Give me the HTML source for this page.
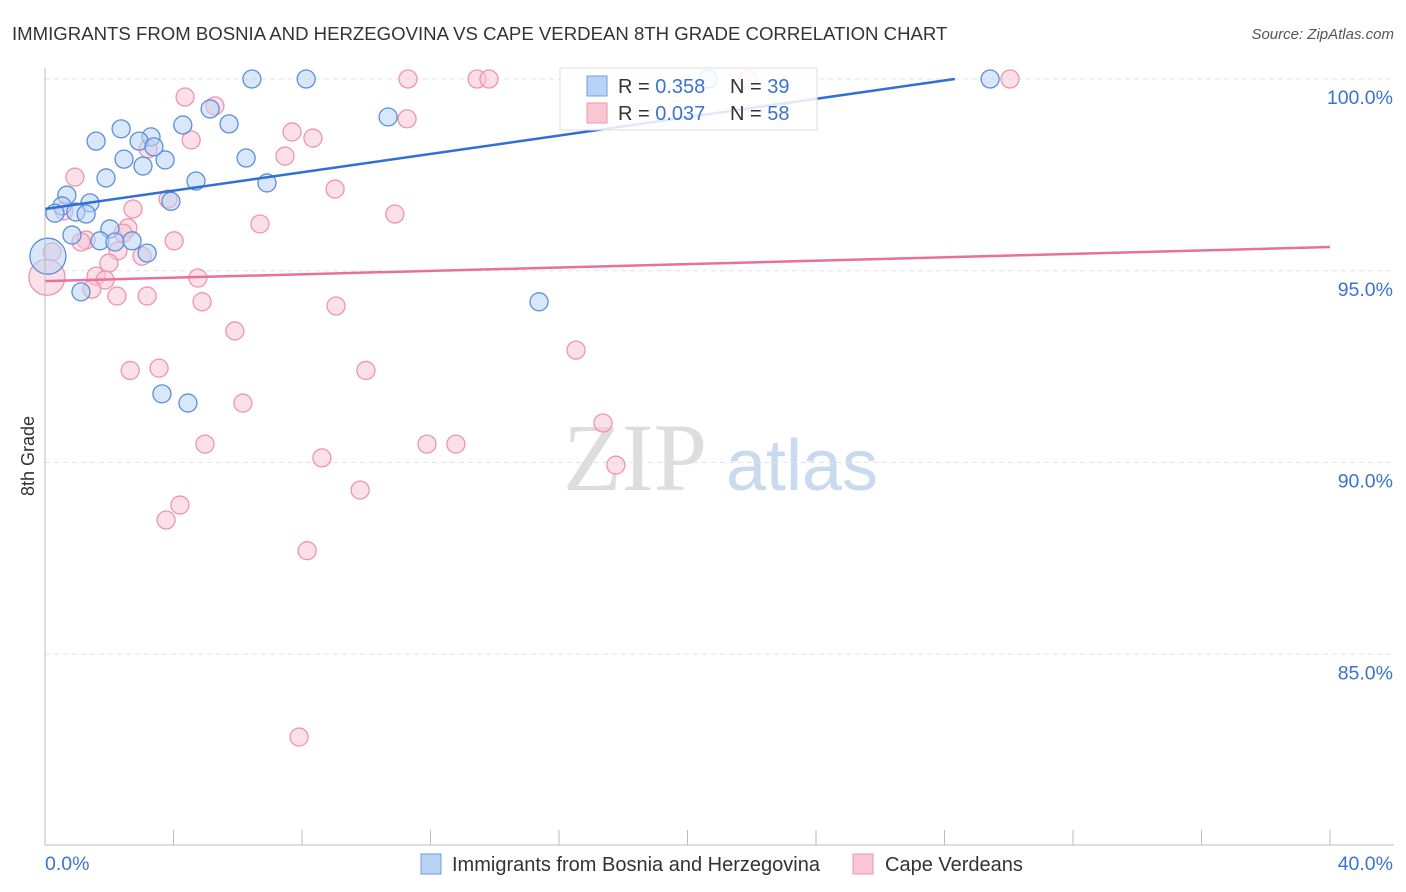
<!DOCTYPE html>
<html><head><meta charset="utf-8"><style>
body{margin:0;background:#fff;font-family:"Liberation Sans",sans-serif}
svg{display:block}
</style></head><body>
<svg id="c" width="1406" height="892">
<text x="12" y="40" font-size="18.6" fill="#333">IMMIGRANTS FROM BOSNIA AND HERZEGOVINA VS CAPE VERDEAN 8TH GRADE CORRELATION CHART</text>
<text x="1394" y="39" font-size="15" fill="#555" text-anchor="end" font-style="italic">Source: ZipAtlas.com</text>
<text x="34" y="456" font-size="18" fill="#333" text-anchor="middle" transform="rotate(-90 34 456)">8th Grade</text>
<g><text x="635" y="490" font-size="96" font-family="Liberation Serif,serif" fill="#ddd" text-anchor="middle">ZIP</text><text x="802" y="490" font-size="72" fill="#c9d9ee" text-anchor="middle">atlas</text></g>
<g id="grid"></g><g id="pts"></g><g id="lines"></g>
<line x1="45" y1="68" x2="45" y2="845" stroke="#bbb"/>
<line x1="45" y1="845" x2="1394" y2="845" stroke="#bbb"/>
<text x="45" y="870" font-size="19.5" fill="#3b73d1">0.0%</text>
<text x="1393" y="870" font-size="19.5" fill="#3b73d1" text-anchor="end">40.0%</text>
<g>
<rect x="560" y="68" width="257" height="62" fill="#fff" fill-opacity="0.85" stroke="#ddd"/>
<rect x="587" y="76" width="20" height="20" fill="#b9d3f5" stroke="#6e9fe0"/>
<rect x="587" y="103" width="20" height="20" fill="#f9c6d4" stroke="#ee94b0"/>
<text x="618" y="93" font-size="20" fill="#333">R = <tspan fill="#3b73d1">0.358</tspan></text>
<text x="730" y="93" font-size="20" fill="#333">N = <tspan fill="#3b73d1">39</tspan></text>
<text x="618" y="120" font-size="20" fill="#333">R = <tspan fill="#3b73d1">0.037</tspan></text>
<text x="730" y="120" font-size="20" fill="#333">N = <tspan fill="#3b73d1">58</tspan></text>
</g>
<g><rect x="421" y="854" width="20" height="20" fill="#b9d3f5" stroke="#6e9fe0"/><text x="452" y="871" font-size="20" fill="#333">Immigrants from Bosnia and Herzegovina</text></g>
<g><rect x="853" y="854" width="20" height="20" fill="#f9c6d4" stroke="#ee94b0"/><text x="885" y="871" font-size="20" fill="#333">Cape Verdeans</text></g>
</svg>
<script>
const yTicks=[100,95,90,85];
const xTicks=[0,4,8,12,16,20,24,28,32,36,40];
const blueX=[6.44,8.13,29.42,20.64,1.59,2.37,3.30,2.93,4.29,5.14,5.73,2.46,3.05,3.74,3.39,6.26,1.90,4.70,6.91,10.68,0.68,1.40,3.92,0.53,0.31,0.96,1.28,0.84,2.02,1.71,2.18,2.71,3.18,0.09,1.12,15.38,3.64,4.45];
const blueY=[100,100,100,100,98.38,98.70,98.49,98.38,98.80,99.22,98.83,97.91,97.73,97.89,98.23,97.94,97.42,97.34,97.29,99.01,96.97,96.77,96.81,96.69,96.50,96.53,96.48,95.93,96.09,95.78,95.75,95.78,95.46,95.38,94.45,94.19,91.79,91.55];
const pinkX=[4.36,5.29,11.30,13.45,13.82,21.88,30.04,11.27,7.69,8.34,4.55,7.47,3.21,0.93,9.03,3.83,10.89,2.74,6.69,0.59,2.58,2.43,1.28,1.12,4.02,2.27,3.02,0.22,1.99,1.59,1.87,4.76,1.46,2.24,3.18,4.89,9.06,5.91,2.65,3.55,9.99,16.53,6.16,4.98,11.89,12.79,8.62,17.37,17.77,9.81,4.20,3.77,8.16,7.91,0.06];
const pinkY=[99.53,99.30,100,100,100,100,100,98.96,98.62,98.46,98.41,97.99,98.18,97.44,97.13,96.87,96.48,96.61,96.22,96.56,96.12,95.98,95.80,95.75,95.78,95.52,95.38,95.49,95.20,94.86,94.76,94.81,94.52,94.34,94.34,94.19,94.08,93.43,92.40,92.46,92.40,92.93,91.55,90.48,90.48,90.48,90.12,91.03,89.93,89.28,88.89,88.50,87.70,82.84,94.83];
const blueFit=[0.1197,96.61];
const pinkFit=[0.0222,94.73];
const NS='http://www.w3.org/2000/svg';
const sx=v=>45+v*32.125, sy=v=>79+(100-v)*38.35;
function mk(t,a,p){const e=document.createElementNS(NS,t);for(const k in a)e.setAttribute(k,a[k]);p.appendChild(e);return e;}
const grid=document.getElementById('grid');
mk('line',{x1:45,x2:1394,y1:sy(100),y2:sy(100),stroke:'#ddd','stroke-dasharray':'5,4'},grid);
yTicks.forEach(t=>{
 const l=mk('line',{x1:45,x2:1394,y1:sy(t),y2:sy(t),stroke:'#e2e2e2','stroke-dasharray':'5,4'},grid);
 
 
 const tx=mk('text',{x:1393,y:sy(t)+25,'font-size':19.5,fill:'#3b73d1','text-anchor':'end'},grid);
 tx.textContent=t.toFixed(1)+'%';
 
 
});
xTicks.forEach(t=>{
 const l=mk('line',{x1:sx(t),x2:sx(t),y1:830,y2:845,stroke:'#bbb'},grid);
 
 
});
const pts=document.getElementById('pts');
function dots(X,Y,fill,stroke,name){X.forEach((x,i)=>{
 const r=(x<0.2)?18:9;
 const c=mk('circle',{cx:sx(x),cy:sy(Y[i]),r:r,fill:fill,'fill-opacity':0.55,stroke:stroke,'stroke-width':1.3},pts);
 
 
});}
dots(pinkX,pinkY,'#f9c6d4','#ee94b0','pink-point');
dots(blueX,blueY,'#b9d3f5','#5a8fdc','blue-point');
const lines=document.getElementById('lines');
const xEnd=(100-blueFit[1])/blueFit[0];
const bl=mk('line',{x1:sx(0),y1:sy(blueFit[1]),x2:sx(xEnd),y2:sy(100),stroke:'#2f6fd6','stroke-width':2.5},lines);


const pl=mk('line',{x1:sx(0),y1:sy(pinkFit[1]),x2:sx(40),y2:sy(pinkFit[1]+40*pinkFit[0]),stroke:'#e8709a','stroke-width':2.5},lines);


</script>
</body></html>
